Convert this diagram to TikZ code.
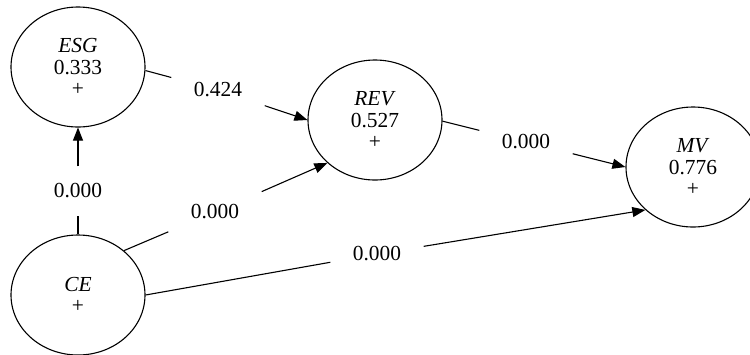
\documentclass[tikz,border=0pt]{standalone}
\usepackage{fontspec}
\setmainfont{Liberation Serif}
\usetikzlibrary{arrows.meta,shapes.geometric}
\begin{document}
\begin{tikzpicture}[x=1bp,y=-1bp,
  lv/.style={ellipse,draw,line width=1.1bp,minimum width=134bp,minimum height=120bp,inner sep=0pt,align=center,font=\fontsize{21.5}{21.5}\selectfont},
  lbl/.style={rectangle,minimum width=93bp,minimum height=49bp,inner sep=0pt,font=\fontsize{21.5}{21.5}\selectfont},
  conn/.style={line width=1.1bp},
  arr/.style={conn,-{Triangle[length=13bp,width=10bp]}}]
\useasboundingbox (0,0) rectangle (750,354);
\node[lv] (ESG) at (78,67) {\textit{ESG}\\0.333\\+};
\node[lv] (REV) at (375,120) {\textit{REV}\\0.527\\+};
\node[lv] (MV) at (693,167) {\textit{MV}\\0.776\\+};
\node[lv] (CE) at (78,295) {\textit{CE}\\+};
\node[lbl] (l1) at (78,191) {0.000};
\node[lbl] (l2) at (218,90) {0.424};
\node[lbl] (l3) at (215,212) {0.000};
\node[lbl] (l4) at (526,142) {0.000};
\node[lbl] (l5) at (377,254) {0.000};
\draw[conn] (CE.90) -- (l1);
\draw[arr] (l1) -- (ESG.-90);
\draw[conn] (ESG.-3) -- (l2);
\draw[arr] (l2) -- (REV.180);
\draw[conn] (CE.44) -- (l3);
\draw[arr] (l3) -- (REV.222);
\draw[conn] (REV.-1) -- (l4);
\draw[arr] (l4) -- (MV.180);
\draw[conn] (CE.0) -- (l5);
\draw[arr] (l5) -- (MV.222);
\end{tikzpicture}
\end{document}
